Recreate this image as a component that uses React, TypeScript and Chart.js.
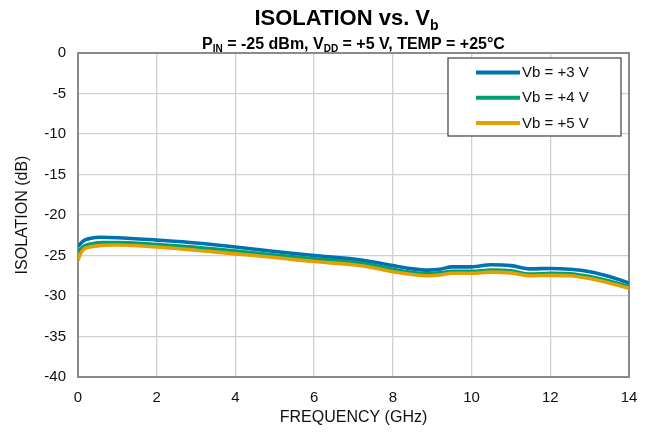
import React, { useEffect, useRef } from "react";
import { Chart, registerables } from "chart.js";

Chart.register(...registerables);

// Frequency points (GHz)
const frequency = [0, 0.05, 0.15, 0.3, 0.6, 1, 2, 3, 4, 5, 6, 7, 7.5, 8, 8.5, 8.9, 9.2, 9.5, 10, 10.5, 11, 11.5, 12, 12.5, 13, 13.5, 14];

// Isolation (dB) per bias voltage
const isoVb3 = [-23.9, -23.6, -23.15, -22.9, -22.75, -22.8, -23.1, -23.45, -23.95, -24.5, -25.0, -25.45, -25.8, -26.25, -26.65, -26.8, -26.7, -26.4, -26.4, -26.15, -26.25, -26.65, -26.6, -26.7, -27.0, -27.6, -28.4];
const isoVb4 = [-24.6, -24.3, -23.85, -23.6, -23.4, -23.4, -23.65, -24.0, -24.45, -24.95, -25.4, -25.85, -26.2, -26.7, -27.1, -27.25, -27.15, -26.95, -26.95, -26.8, -26.9, -27.3, -27.2, -27.25, -27.6, -28.15, -28.85];
const isoVb5 = [-25.6, -24.9, -24.2, -23.95, -23.75, -23.7, -23.95, -24.35, -24.8, -25.25, -25.75, -26.15, -26.5, -27.0, -27.35, -27.5, -27.4, -27.2, -27.2, -27.05, -27.15, -27.5, -27.45, -27.5, -27.85, -28.4, -29.05];

const seriesLabels = ["Vb = +3 V", "Vb = +4 V", "Vb = +5 V"];
const seriesColors = ["#0072B2", "#009E73", "#E69F00"];

const xTicks = [0, 2, 4, 6, 8, 10, 12, 14];
const yTicks = [0, -5, -10, -15, -20, -25, -30, -35, -40];

type Seg = { t: string; sub?: boolean };
const titleSegs: Seg[] = [{ t: "ISOLATION vs. V" }, { t: "b", sub: true }];
const subtitleSegs: Seg[] = [
  { t: "P" }, { t: "IN", sub: true }, { t: " = -25 dBm, V" }, { t: "DD", sub: true },
  { t: " = +5 V, TEMP = +25°C" },
];

const FONT = "Arial, 'Liberation Sans', sans-serif";

function drawRich(ctx: CanvasRenderingContext2D, segs: Seg[], cx: number, baseline: number, size: number) {
  const subSize = Math.round(size * 0.62);
  const fontMain = `bold ${size}px ${FONT}`;
  const fontSub = `bold ${subSize}px ${FONT}`;
  let total = 0;
  for (const s of segs) {
    ctx.font = s.sub ? fontSub : fontMain;
    total += ctx.measureText(s.t).width;
  }
  let x = cx - total / 2;
  ctx.textAlign = "left";
  ctx.textBaseline = "alphabetic";
  ctx.fillStyle = "#000";
  for (const s of segs) {
    ctx.font = s.sub ? fontSub : fontMain;
    ctx.fillText(s.t, x, s.sub ? baseline + size * 0.22 : baseline);
    x += ctx.measureText(s.t).width;
  }
}

const decorPlugin = {
  id: "decor",
  beforeDatasetsDraw(chart: any) {
    const { ctx, chartArea: a } = chart;
    ctx.save();
    ctx.strokeStyle = "#8a8a8a";
    ctx.lineWidth = 2;
    ctx.strokeRect(a.left, a.top, a.right - a.left, a.bottom - a.top);
    ctx.restore();
  },
  afterDraw(chart: any) {
    const { ctx, chartArea: a } = chart;
    const cx = (a.left + a.right) / 2;
    ctx.save();
    drawRich(ctx, titleSegs, cx - 7, 25, 22);
    drawRich(ctx, subtitleSegs, cx, 48.5, 16);

    // Legend box
    const bx = 448, by = 58, bw = 173, bh = 78;
    ctx.fillStyle = "#fff";
    ctx.fillRect(bx, by, bw, bh);
    ctx.strokeStyle = "#404040";
    ctx.lineWidth = 1.2;
    ctx.strokeRect(bx, by, bw, bh);
    chart.data.datasets.forEach((ds: any, i: number) => {
      const y = by + 14.5 + i * 25.3;
      ctx.strokeStyle = ds.borderColor;
      ctx.lineWidth = 4;
      ctx.beginPath();
      ctx.moveTo(476, y);
      ctx.lineTo(520, y);
      ctx.stroke();
      ctx.fillStyle = "#111";
      ctx.font = `15px ${FONT}`;
      ctx.textAlign = "left";
      ctx.textBaseline = "middle";
      ctx.fillText(ds.label, 522, y + 0.5);
    });
    ctx.restore();
  },
};

export default function App() {
  const canvasRef = useRef<HTMLCanvasElement | null>(null);

  useEffect(() => {
    document.body.style.margin = "0";
    const canvas = canvasRef.current;
    if (!canvas) return;
    const seriesValues = [isoVb3, isoVb4, isoVb5];
    const chart = new Chart(canvas, {
      type: "line",
      data: {
        datasets: seriesValues.map((vals, i) => ({
          label: seriesLabels[i],
          data: frequency.map((f, k) => ({ x: f, y: vals[k] })),
          borderColor: seriesColors[i],
          backgroundColor: seriesColors[i],
          borderWidth: 3.6,
          pointRadius: 0,
          cubicInterpolationMode: "monotone" as const,
          order: 2 - i,
        })),
      },
      options: {
        animation: false,
        responsive: false,
        layout: { padding: { top: 53, right: 21, left: 0, bottom: 0 } },
        plugins: { legend: { display: false }, tooltip: { enabled: false }, title: { display: false } },
        scales: {
          x: {
            type: "linear",
            min: 0,
            max: 14,
            afterFit: (s: any) => { s.height = 55; },
            afterBuildTicks: (s: any) => { s.ticks = xTicks.map((v) => ({ value: v })); },
            grid: { color: "#d0d0d0", lineWidth: 1.3, drawTicks: false },
            border: { display: false },
            ticks: { color: "#111", font: { family: FONT, size: 15 }, padding: 12 },
            title: {
              display: true,
              text: "FREQUENCY (GHz)",
              color: "#111",
              font: { family: FONT, size: 16 },
              padding: { top: 0, bottom: 5 },
            },
          },
          y: {
            type: "linear",
            min: -40,
            max: 0,
            afterFit: (s: any) => { s.width = 78; },
            afterBuildTicks: (s: any) => { s.ticks = yTicks.map((v) => ({ value: v })); },
            grid: { color: "#d0d0d0", lineWidth: 1.3, drawTicks: false },
            border: { display: false },
            ticks: { color: "#111", font: { family: FONT, size: 15 }, padding: 12 },
            title: {
              display: true,
              text: "ISOLATION (dB)",
              color: "#111",
              font: { family: FONT, size: 16 },
              padding: { top: 13, bottom: 0 },
            },
          },
        },
      },
      plugins: [decorPlugin],
    });
    return () => chart.destroy();
  }, []);

  return <canvas ref={canvasRef} width={650} height={432} style={{ display: "block" }} />;
}
